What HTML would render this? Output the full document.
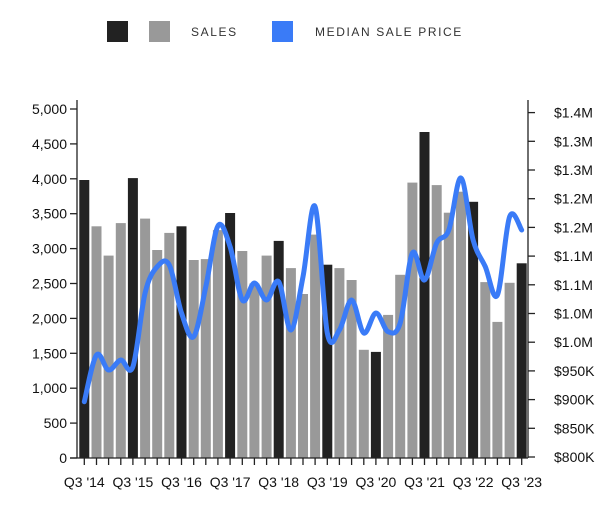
<!DOCTYPE html>
<html><head><meta charset="utf-8"><style>
body{margin:0;background:#fff;}
svg{display:block;font-family:"Liberation Sans",Arial,sans-serif;}
</style></head><body>
<svg id="c" width="610" height="512" xmlns="http://www.w3.org/2000/svg">
<rect x="107" y="21" width="21" height="21" fill="#222"/>
<rect x="149" y="21" width="21" height="21" fill="#999"/>
<text x="191" y="36" font-size="12" letter-spacing="1.6" fill="#333">SALES</text>
<rect x="272" y="21" width="21" height="21" fill="#3a7bf7"/>
<text x="315" y="36" font-size="12" letter-spacing="1.6" fill="#333">MEDIAN SALE PRICE</text>
<g id="g"></g>
</svg>
<script>
var g=document.getElementById('g'),s='';
var sales=[3983,3320,2900,3365,4010,3430,2980,3225,3320,2836,2850,3265,3510,2965,2500,2900,3110,2720,2350,3200,2770,2720,2550,1550,1520,2050,2625,3945,4670,3910,3515,3815,3670,2520,1950,2510,2790];
var ly=[401.7,355,370,360,366.7,293,266.7,265,313,336.7,286.7,226,246.7,300,283,300,281.7,330,276.7,206.7,333,330,300,333,313,331.7,323,253,280,243,230,178,240,266.7,295,216.7,230];
function X(i){return 84.3+12.15*i;}
for(var i=0;i<37;i++){var h=sales[i]*0.0698;var d=(i%4==0);
s+='<rect x="'+(X(i)-5).toFixed(1)+'" y="'+(458-h).toFixed(1)+'" width="10" height="'+h.toFixed(1)+'" fill="'+(d?'#222':'#999')+'"/>';
s+='<line x1="'+X(i).toFixed(1)+'" y1="458" x2="'+X(i).toFixed(1)+'" y2="465" stroke="#222" stroke-width="1.3"/>';
if(d)s+='<text x="'+X(i).toFixed(1)+'" y="487" font-size="14" text-anchor="middle" fill="#111">Q3 \''+(14+i/4)+'</text>';}
var p='M'+X(0)+','+ly[0];
for(var i=0;i<36;i++){var p0=i?i-1:0,p3=i+2>36?36:i+2;
var c1x=X(i)+(X(i+1)-X(p0))/6,c1y=ly[i]+(ly[i+1]-ly[p0])/6,c2x=X(i+1)-(X(p3)-X(i))/6,c2y=ly[i+1]-(ly[p3]-ly[i])/6;
p+=' C'+c1x.toFixed(1)+','+c1y.toFixed(1)+' '+c2x.toFixed(1)+','+c2y.toFixed(1)+' '+X(i+1).toFixed(1)+','+ly[i+1];}
s+='<path d="'+p+'" fill="none" stroke="#3a7bf7" stroke-width="5" stroke-linecap="round" stroke-linejoin="round"/>';
s+='<line x1="77" y1="100" x2="77" y2="458" stroke="#222" stroke-width="1.3"/>';
s+='<line x1="70" y1="458" x2="528" y2="458" stroke="#222" stroke-width="1.3"/>';
s+='<line x1="528" y1="100" x2="528" y2="458" stroke="#222" stroke-width="1.3"/>';
for(var k=0;k<=10;k++){var y=458-k*34.9;
s+='<line x1="70" y1="'+y+'" x2="77" y2="'+y+'" stroke="#222" stroke-width="1.3"/>';
s+='<text x="67" y="'+(y+5)+'" font-size="14" text-anchor="end" fill="#111">'+(k*500).toLocaleString('en-US')+'</text>';}
var rl=['$800K','$850K','$900K','$950K','$1.0M','$1.0M','$1.1M','$1.1M','$1.2M','$1.2M','$1.3M','$1.3M','$1.4M'];
for(var k=0;k<=12;k++){var y=457-k*28.7;
s+='<line x1="528" y1="'+y+'" x2="535" y2="'+y+'" stroke="#222" stroke-width="1.3"/>';
s+='<text x="554" y="'+(y+5)+'" font-size="14" fill="#111">'+rl[k]+'</text>';}
g.innerHTML=s;
</script>
</body></html>
